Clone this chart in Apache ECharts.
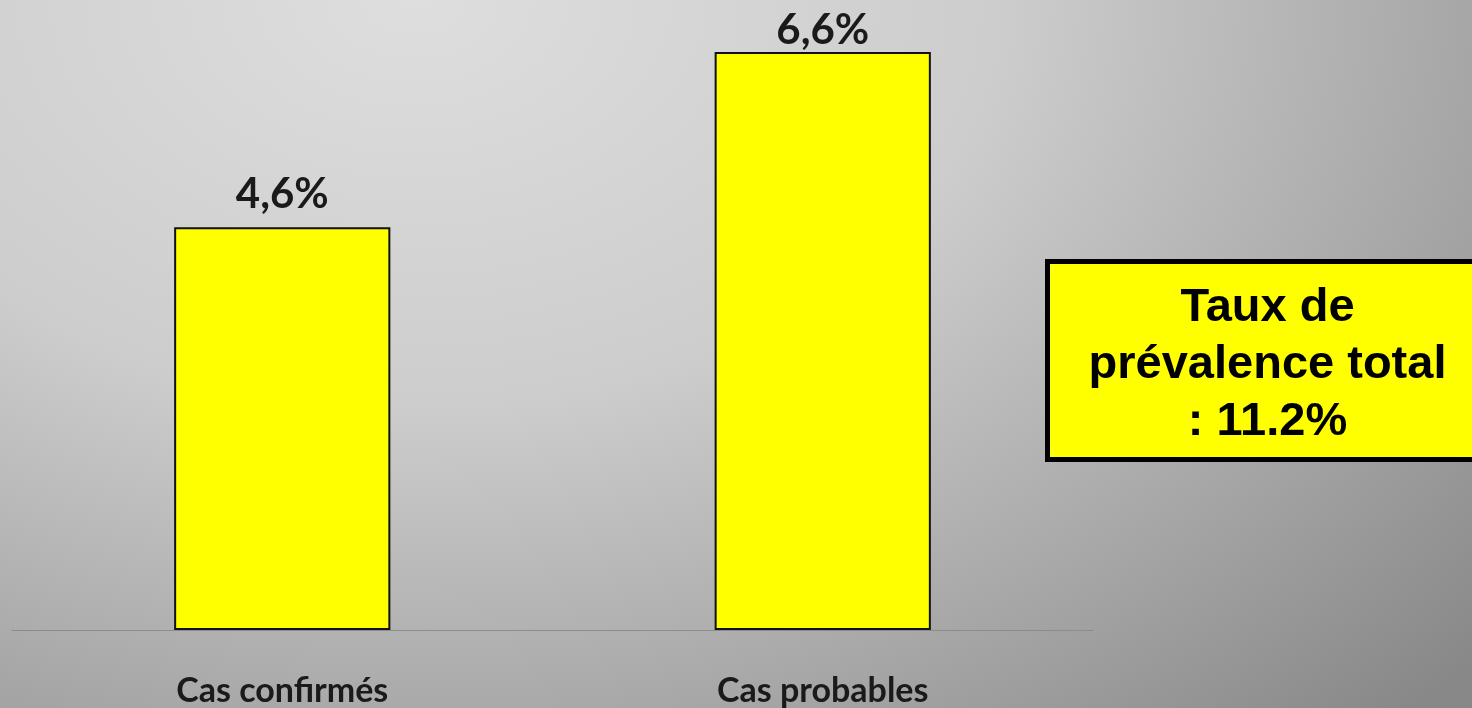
<!DOCTYPE html>
<html>
<head>
<meta charset="utf-8">
<script src="https://cdn.jsdelivr.net/npm/echarts@6/dist/echarts.min.js"></script>
<style>
html,body{margin:0;padding:0;width:1472px;height:708px;overflow:hidden;}
body{background:radial-gradient(ellipse 1300px 900px at 28% 0%, #dedede 0%, #cdcdcd 45%, #a8a8a8 80%, #888888 110%);}
#chart{width:1472px;height:708px;}
</style>
</head>
<body>
<div id="chart"></div>
<script>
var categories = ['Cas confirmés', 'Cas probables'];
var values = [4.6, 6.6];
var valueLabels = ['4,6%', '6,6%'];
var boxLines = ['Taux de', 'prévalence total', ': 11.2%'];
var labelGaps = [12, 1];

var chart = echarts.init(document.getElementById('chart'));
chart.setOption({
  backgroundColor: 'transparent',
  animation: false,
  grid: { left: 12, right: 379, top: 17, bottom: 77 },
  xAxis: {
    type: 'category',
    data: categories,
    axisLine: { lineStyle: { color: '#8c8c8c', width: 1 } },
    axisTick: { show: false },
    axisLabel: {
      margin: 44,
      fontFamily: 'Lato',
      fontWeight: 'bold',
      fontSize: 34,
      color: '#1a1a1a'
    }
  },
  yAxis: {
    type: 'value', min: 0, max: 7,
    show: false,
    splitLine: { show: false }
  },
  series: [{
    type: 'bar',
    data: values.map(function (v, i) {
      return { value: v, label: { distance: labelGaps[i] } };
    }),
    barWidth: '40%',
    itemStyle: { color: '#ffff00', borderColor: '#111', borderWidth: 2 },
    label: {
      show: true,
      position: 'top',
      fontFamily: 'Lato',
      fontWeight: 'bold',
      fontSize: 42,
      color: '#1a1a1a',
      formatter: function (p) { return valueLabels[p.dataIndex]; }
    }
  }],
  graphic: [{
    type: 'group',
    left: 1045, top: 259,
    children: [{
      type: 'rect',
      shape: { x: 0, y: 0, width: 440, height: 198 },
      style: { fill: '#ffff00', stroke: '#000', lineWidth: 5 }
    }, {
      type: 'text',
      x: 220, y: 104,
      style: {
        text: boxLines.join('\n'),
        fontFamily: 'Liberation Sans',
        fontWeight: 'bold',
        fontSize: 47,
        lineHeight: 57,
        fill: '#000',
        align: 'center',
        verticalAlign: 'middle'
      }
    }]
  }]
});
</script>
</body>
</html>
